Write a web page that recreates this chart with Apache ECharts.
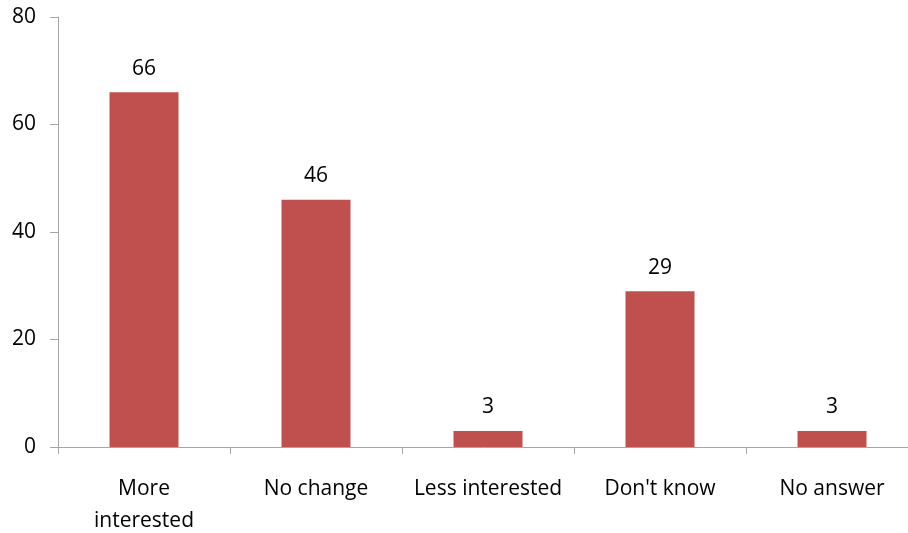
<!DOCTYPE html>
<html>
<head>
<meta charset="utf-8">
<script src="https://cdn.jsdelivr.net/npm/echarts@6/dist/echarts.min.js"></script>
<style>
  html, body { margin: 0; padding: 0; background: #ffffff; }
  #chart { width: 908px; height: 533px; }
</style>
</head>
<body>
<div id="chart"></div>
<script>
// Survey responses: change in interest
const categories = ['More\ninterested', 'No change', 'Less interested', "Don't know", 'No answer'];
const values = [66, 46, 3, 29, 3];
const yTicks = { min: 0, max: 80, interval: 20 };

const font = '"Open Sans", Lato, sans-serif';
const axisGray = '#a6a6a6';

const chart = echarts.init(document.getElementById('chart'), null, { renderer: 'canvas' });
chart.setOption({
  animation: false,
  // plot area runs 10px past the right edge of the canvas
  grid: {
    left: 58, top: 17, width: 860, height: 430,
    containLabel: false,
    outerBoundsMode: 'none'
  },
  xAxis: {
    type: 'category',
    data: categories,
    boundaryGap: true,
    axisLine: { show: true, lineStyle: { color: axisGray, width: 1 } },
    axisTick: { show: true, length: 7, lineStyle: { color: axisGray } },
    axisLabel: {
      interval: 0,
      margin: 26,
      color: '#000',
      fontFamily: font,
      fontSize: 21,
      lineHeight: 32
    }
  },
  yAxis: {
    type: 'value',
    min: yTicks.min,
    max: yTicks.max,
    interval: yTicks.interval,
    axisLine: { show: true, lineStyle: { color: axisGray, width: 1 } },
    axisTick: { show: true, length: 8, lineStyle: { color: axisGray } },
    splitLine: { show: false },
    axisLabel: { margin: 22, color: '#000', fontFamily: font, fontSize: 21 }
  },
  series: [{
    type: 'bar',
    data: values,
    barWidth: 69,
    itemStyle: { color: '#c0504d' },
    label: {
      show: true,
      position: 'top',
      distance: 13,
      color: '#000',
      fontFamily: font,
      fontSize: 21
    }
  }]
});
</script>
</body>
</html>
